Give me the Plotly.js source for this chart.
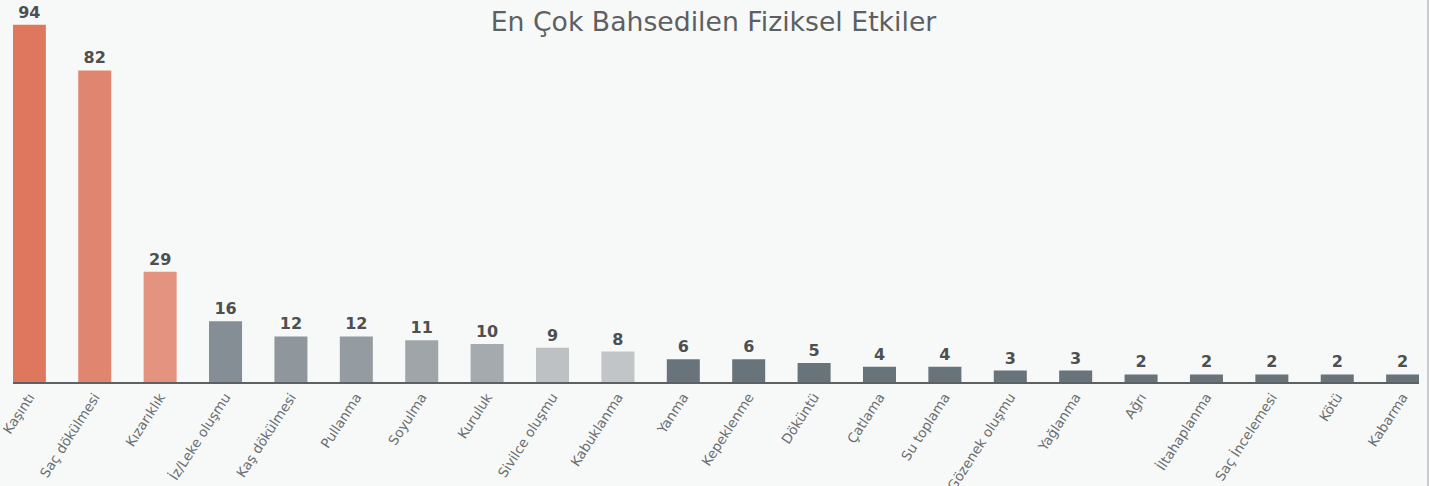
<!DOCTYPE html>
<html>
<head>
<meta charset="utf-8">
<script src="https://cdn.plot.ly/plotly-3.0.1.min.js"></script>
<style>
html,body{margin:0;padding:0;background:#f7f9f9;overflow:hidden;}
#wrap{width:1427px;height:486px;border-right:2px solid #c9cbcc;}
#chart{width:1427px;height:486px;}
</style>
</head>
<body>
<div id="wrap"><div id="chart"></div></div>
<script>
var categories = ["Kaşıntı","Saç dökülmesi","Kızarıklık","İz/Leke oluşmu","Kaş dökülmesi","Pullanma","Soyulma","Kuruluk","Sivilce oluşmu","Kabuklanma","Yanma","Kepeklenme","Döküntü","Çatlama","Su toplama","Gözenek oluşmu","Yağlanma","Ağrı","İltahaplanma","Saç İncelemesi","Kötü","Kabarma"];
var counts = [94,82,29,16,12,12,11,10,9,8,6,6,5,4,4,3,3,2,2,2,2,2];
var barColors = ["#df775e","#e08670","#e39380","#868e95","#8f969c","#959ca1","#9fa5a8","#a4aaae","#bdc1c4","#c1c5c7","#68737a","#68737a","#68737a","#68737a","#68737a","#68737a","#68737a","#68737a","#68737a","#68737a","#68737a","#68737a"];
var titleText = "En Çok Bahsedilen Fiziksel Etkiler";

var trace = {
  type: "bar",
  x: categories,
  y: counts,
  marker: {color: barColors},
  text: counts.map(String),
  textposition: "outside",
  cliponaxis: false,
  textfont: {family: "DejaVu Sans, sans-serif", size: 16, color: "#4d4f51", weight: 700},
  hoverinfo: "x+y"
};
var layout = {
  width: 1427, height: 486,
  margin: {l: 13, r: 8, t: 21, b: 104, pad: 0},
  paper_bgcolor: "#f7f9f9",
  plot_bgcolor: "#f7f9f9",
  bargap: 0.495,
  showlegend: false,
  title: {text: titleText, x: 0.5, xanchor: "center", y: 0.955, yanchor: "middle",
          font: {family: "DejaVu Sans, sans-serif", size: 26.7, color: "#5d5f61", weight: 400}},
  xaxis: {
    type: "category",
    range: [-0.25, 21.25],
    tickangle: -57,
    tickfont: {family: "DejaVu Sans, sans-serif", size: 13.5, color: "#6a6e71"},
    showline: true, linecolor: "#5e6164", linewidth: 2,
    ticks: "", showgrid: false, zeroline: false, automargin: false
  },
  yaxis: {
    range: [0, 95],
    visible: false, showgrid: false, zeroline: false
  }
};
Plotly.newPlot("chart", [trace], layout, {displayModeBar: false, staticPlot: true});
</script>
</body>
</html>
